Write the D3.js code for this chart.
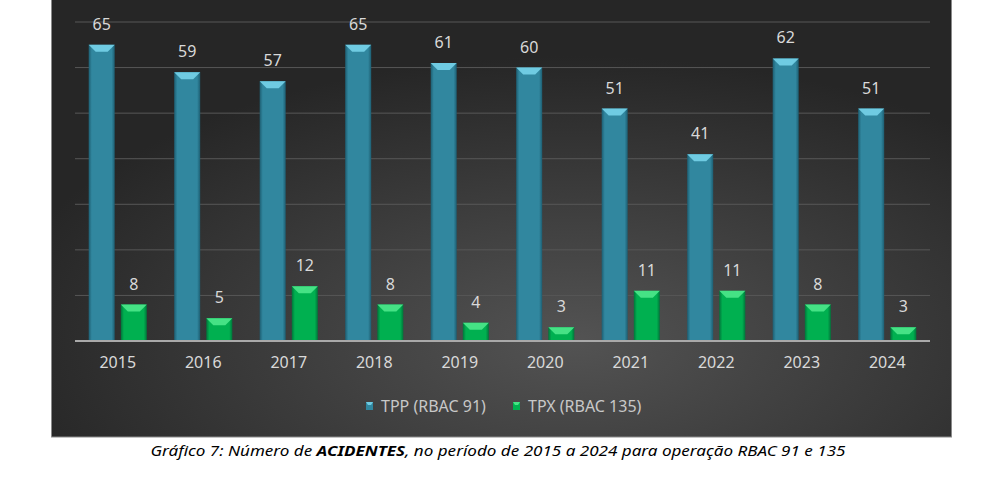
<!DOCTYPE html>
<html>
<head>
<meta charset="utf-8">
<script src="https://cdn.jsdelivr.net/npm/d3@7"></script>
<style>
  body { margin: 0; background: #fff; }
  svg { display: block; }
</style>
</head>
<body>
<svg id="chart" width="1006" height="483"></svg>
<script>
const years = ["2015", "2016", "2017", "2018", "2019", "2020", "2021", "2022", "2023", "2024"];
const series = ["TPP (RBAC 91)", "TPX (RBAC 135)"];
const tpp = [65, 59, 57, 65, 61, 60, 51, 41, 62, 51];
const tpx = [8, 5, 12, 8, 4, 3, 11, 11, 8, 3];
const yTicks = [0, 10, 20, 30, 40, 50, 60, 70];

const svg = d3.select("#chart");
const font = "'Noto Sans', 'DejaVu Sans', sans-serif";

const palette = [
  { main: "#31879f", edge: "#1d5e72", light: "#6fcbe2" },
  { main: "#00b050", edge: "#00753a", light: "#45e285" }
];

const defs = svg.append("defs");

// background glow
const bg = defs.append("radialGradient")
  .attr("id", "bgGrad")
  .attr("cx", "58%").attr("cy", "78%").attr("r", "65%");
bg.append("stop").attr("offset", "0%").attr("stop-color", "#535353");
bg.append("stop").attr("offset", "100%").attr("stop-color", "#262626");

palette.forEach((p, i) => {
  const g = defs.append("linearGradient")
    .attr("id", "barGrad" + i)
    .attr("x1", "0%").attr("x2", "100%").attr("y1", "0%").attr("y2", "0%");
  g.append("stop").attr("offset", "0%").attr("stop-color", p.edge);
  g.append("stop").attr("offset", "12%").attr("stop-color", p.main);
  g.append("stop").attr("offset", "88%").attr("stop-color", p.main);
  g.append("stop").attr("offset", "100%").attr("stop-color", p.edge);
});

svg.append("rect")
  .attr("x", 51.5).attr("y", -1)
  .attr("width", 900).attr("height", 438)
  .attr("fill", "url(#bgGrad)")
  .attr("stroke", "#8a8a8a")
  .attr("stroke-width", 1);

const x = d3.scaleBand()
  .domain(years)
  .range([75, 930])
  .paddingInner(0.32)
  .paddingOuter(0.16);

const xs = d3.scaleBand()
  .domain(series)
  .range([0, x.bandwidth()])
  .paddingInner(0.19);

const y = d3.scaleLinear()
  .domain([0, 70])
  .range([341, 22]);

// gridlines
svg.append("g")
  .selectAll("line")
  .data(yTicks.slice(1))
  .join("line")
  .attr("x1", 75).attr("x2", 930)
  .attr("y1", d => y(d)).attr("y2", d => y(d))
  .attr("stroke", "#575757")
  .attr("stroke-width", 1);

const rows = years.map((yr, i) => ({ year: yr, values: [tpp[i], tpx[i]] }));

const groups = svg.append("g")
  .selectAll("g")
  .data(rows)
  .join("g")
  .attr("transform", d => `translate(${x(d.year)},0)`);

series.forEach((s, si) => {
  const p = palette[si];
  const bx = xs(s);
  const bw = xs.bandwidth();

  groups.append("rect")
    .attr("x", bx)
    .attr("y", d => y(d.values[si]))
    .attr("width", bw)
    .attr("height", d => y(0) - y(d.values[si]))
    .attr("fill", `url(#barGrad${si})`);

  // top bevel
  groups.append("polygon")
    .attr("points", d => {
      const t = y(d.values[si]);
      return [[bx, t], [bx + bw, t], [bx + bw - 7, t + 7], [bx + 7, t + 7]].join(" ");
    })
    .attr("fill", p.light);

  groups.append("text")
    .attr("x", bx + bw / 2)
    .attr("y", d => y(d.values[si]) - 15)
    .attr("text-anchor", "middle")
    .attr("font-family", font)
    .attr("font-size", 16)
    .attr("fill", "#d9d9d9")
    .text(d => d.values[si]);
});

// baseline
svg.append("line")
  .attr("x1", 75).attr("x2", 930)
  .attr("y1", y(0)).attr("y2", y(0))
  .attr("stroke", "#a9a9a9")
  .attr("stroke-width", 2);

// x axis labels
const xAxis = svg.append("g")
  .attr("transform", `translate(0,${y(0)})`)
  .call(d3.axisBottom(x).tickSize(0).tickPadding(16));
xAxis.select(".domain").remove();
xAxis.selectAll("text")
  .attr("font-family", font)
  .attr("font-size", 16)
  .attr("fill", "#d9d9d9");

// legend
const legendPos = [366, 513];
const legend = svg.append("g")
  .selectAll("g")
  .data(series)
  .join("g")
  .attr("transform", (d, i) => `translate(${legendPos[i]},406)`);
legend.append("rect")
  .attr("x", 0).attr("y", -4)
  .attr("width", 7).attr("height", 8)
  .attr("fill", (d, i) => palette[i].main);
legend.append("polygon")
  .attr("points", "0,-4 7,-4 5,-1 2,-1")
  .attr("fill", (d, i) => palette[i].light);
legend.append("text")
  .attr("x", 15).attr("y", 6)
  .attr("font-family", font)
  .attr("font-size", 16)
  .attr("fill", "#c8c8c8")
  .text(d => d);

// caption
const cap = svg.append("text")
  .attr("x", 498).attr("y", 456)
  .attr("text-anchor", "middle")
  .attr("font-family", font)
  .attr("font-size", 14.5)
  .attr("font-style", "italic")
  .attr("fill", "#000");
cap.append("tspan").text("Gráfico 7: Número de ");
cap.append("tspan").attr("font-weight", "bold").text("ACIDENTES");
cap.append("tspan").text(", no período de 2015 a 2024 para operação RBAC 91 e 135");
cap.attr("textLength", 695).attr("lengthAdjust", "spacingAndGlyphs");
</script>
</body>
</html>
